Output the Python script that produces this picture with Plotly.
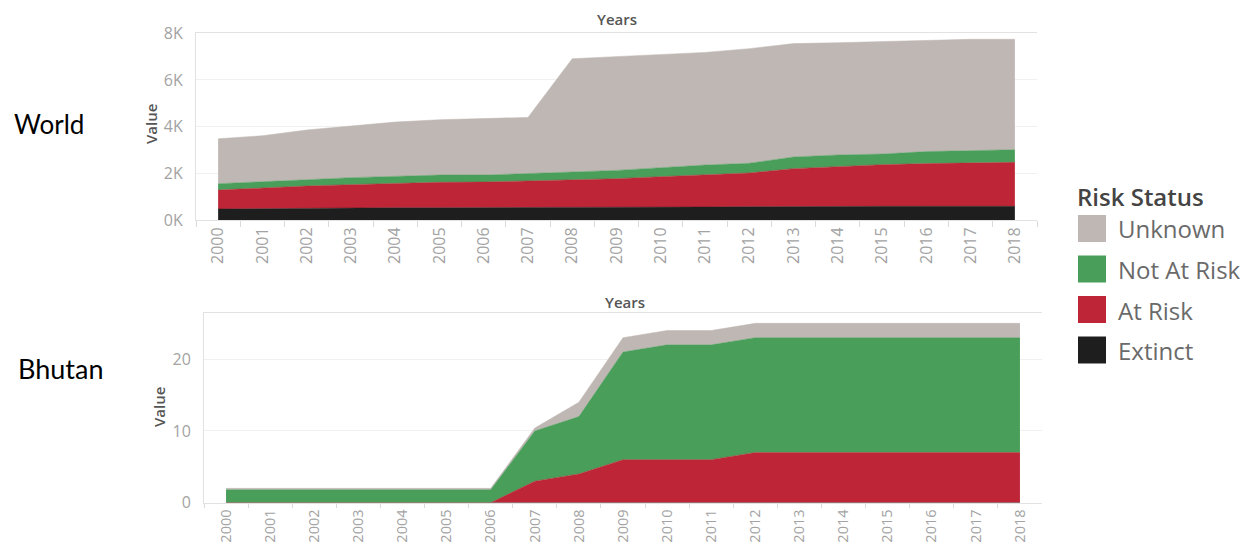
import plotly.graph_objects as go

W, H = 1253, 544

years = [str(y) for y in range(2000, 2019)]
statuses = ["Extinct", "At Risk", "Not At Risk", "Unknown"]  # stacking order bottom -> top
legend_order = ["Unknown", "Not At Risk", "At Risk", "Extinct"]

world_extinct = [470, 485, 525, 525, 525, 525, 525, 525, 540, 545, 550, 555, 570, 585, 585, 585, 585, 585, 585]
world_at_risk = [815, 900, 930, 990, 1045, 1090, 1100, 1140, 1185, 1225, 1305, 1370, 1445, 1615, 1715, 1785, 1830, 1855, 1885]
world_not_at_risk = [270, 270, 270, 300, 300, 310, 300, 315, 330, 355, 385, 430, 415, 500, 485, 455, 515, 545, 540]
world_unknown = [1925, 1955, 2130, 2225, 2325, 2370, 2415, 2415, 4855, 4870, 4870, 4825, 4910, 4855, 4810, 4810, 4770, 4755, 4730]

bhutan_extinct = [0] * 19
bhutan_at_risk = [0, 0, 0, 0, 0, 0, 0, 3, 4, 6, 6, 6, 7, 7, 7, 7, 7, 7, 7]
bhutan_not_at_risk = [1.8, 1.8, 1.8, 1.8, 1.8, 1.8, 1.8, 7, 8, 15, 16, 16, 16, 16, 16, 16, 16, 16, 16]
bhutan_unknown = [0.2, 0.2, 0.2, 0.2, 0.2, 0.2, 0.2, 0.4, 2, 2, 2, 2, 2, 2, 2, 2, 2, 2, 2]

world_ytickvals = [0, 2000, 4000, 6000, 8000]
world_yticktext = ["0K", "2K", "4K", "6K", "8K"]
bhutan_ytickvals = [0, 10, 20]
bhutan_yticktext = ["0", "10", "20"]

COLORS = {"Unknown": "#BFB7B3", "Not At Risk": "#499E5A", "At Risk": "#BE2637", "Extinct": "#1E1E1E"}

world = {"Extinct": world_extinct, "At Risk": world_at_risk,
         "Not At Risk": world_not_at_risk, "Unknown": world_unknown}
bhutan = {"Extinct": bhutan_extinct, "At Risk": bhutan_at_risk,
          "Not At Risk": bhutan_not_at_risk, "Unknown": bhutan_unknown}

fig = go.Figure()

for data, xa, ya, grp in [(world, "x", "y", "w"), (bhutan, "x2", "y2", "b")]:
    for s in statuses:
        fig.add_trace(go.Scatter(
            x=years, y=data[s], xaxis=xa, yaxis=ya, stackgroup=grp,
            mode="lines", line=dict(width=0.5, color=COLORS[s]),
            fillcolor=COLORS[s], name=s, showlegend=False, hoverinfo="x+y+name"))

def px2x(p):
    return p / W

def px2y(p):
    return 1 - p / H

tickfont = dict(family="Open Sans", size=16, color="#A3A3A3")
tickfont_small = dict(family="Open Sans", size=14.5, color="#A3A3A3")
axis_common = dict(
    type="category", range=[-0.5, 18.5], tickson="boundaries", ticks="outside",
    tickcolor="#DADADA", tickangle=-90,
    showline=True, linecolor="#E2E2E2", mirror=True, showgrid=False, zeroline=False,
    automargin=False,
)
yaxis_common = dict(
    showline=True, linecolor="#E2E2E2", gridcolor="#F0F0F0", zeroline=False,
    tickfont=tickfont, ticks="", ticklabelstandoff=9, automargin=False,
)

fig.update_layout(
    width=W, height=H, margin=dict(l=0, r=0, t=0, b=0, autoexpand=False),
    paper_bgcolor="white", plot_bgcolor="white", showlegend=False,
    xaxis=dict(domain=[px2x(196), px2x(1037)], anchor="y", ticklen=6, tickfont=tickfont, **axis_common),
    yaxis=dict(domain=[px2y(220), px2y(33)], anchor="x", range=[0, 8010],
               tickvals=world_ytickvals, ticktext=world_yticktext, **yaxis_common),
    xaxis2=dict(domain=[px2x(204), px2x(1042)], anchor="y2", ticklen=4, tickfont=tickfont_small, **axis_common),
    yaxis2=dict(domain=[px2y(502.7), px2y(313.3)], anchor="x2", range=[0, 26.4],
                tickvals=bhutan_ytickvals, ticktext=bhutan_yticktext, **yaxis_common),
)

ann = []
# Row labels
ann.append(dict(text="World", x=px2x(12), y=px2y(124), xanchor="left", yanchor="middle",
                font=dict(family="Lato", size=26, color="#000000")))
ann.append(dict(text="Bhutan", x=px2x(16), y=px2y(368), xanchor="left", yanchor="middle",
                font=dict(family="Lato", size=27, color="#000000")))
# Axis titles
for cx, cy in [(617, 19), (625, 302)]:
    ann.append(dict(text="Years", x=px2x(cx), y=px2y(cy), xanchor="center", yanchor="middle",
                    font=dict(family="Open Sans", size=15, color="#555555", weight=600)))
for cx, cy in [(151, 124), (159, 407)]:
    ann.append(dict(text="Value", x=px2x(cx), y=px2y(cy), xanchor="center", yanchor="middle",
                    textangle=-90, font=dict(family="Open Sans", size=15, color="#555555", weight=600)))
# Legend title
ann.append(dict(text="Risk Status", x=px2x(1075), y=px2y(197), xanchor="left", yanchor="middle",
                font=dict(family="Open Sans", size=24, color="#444444", weight=600)))

shapes = []
for i, s in enumerate(legend_order):
    top = 215 + i * 40.5
    shapes.append(dict(type="rect", xref="paper", yref="paper",
                       x0=px2x(1078), x1=px2x(1106), y0=px2y(top + 27), y1=px2y(top),
                       fillcolor=COLORS[s], line=dict(width=0)))
    ann.append(dict(text=s, x=px2x(1116), y=px2y(top + 14), xanchor="left", yanchor="middle",
                    font=dict(family="Open Sans", size=24, color="#6A6A6A")))

for a in ann:
    a.update(xref="paper", yref="paper", showarrow=False)
fig.update_layout(annotations=ann, shapes=shapes)

fig.write_html("out.html", config={"displayModeBar": False},
               post_script="document.body.style.margin='0';document.body.style.overflow='hidden';")
